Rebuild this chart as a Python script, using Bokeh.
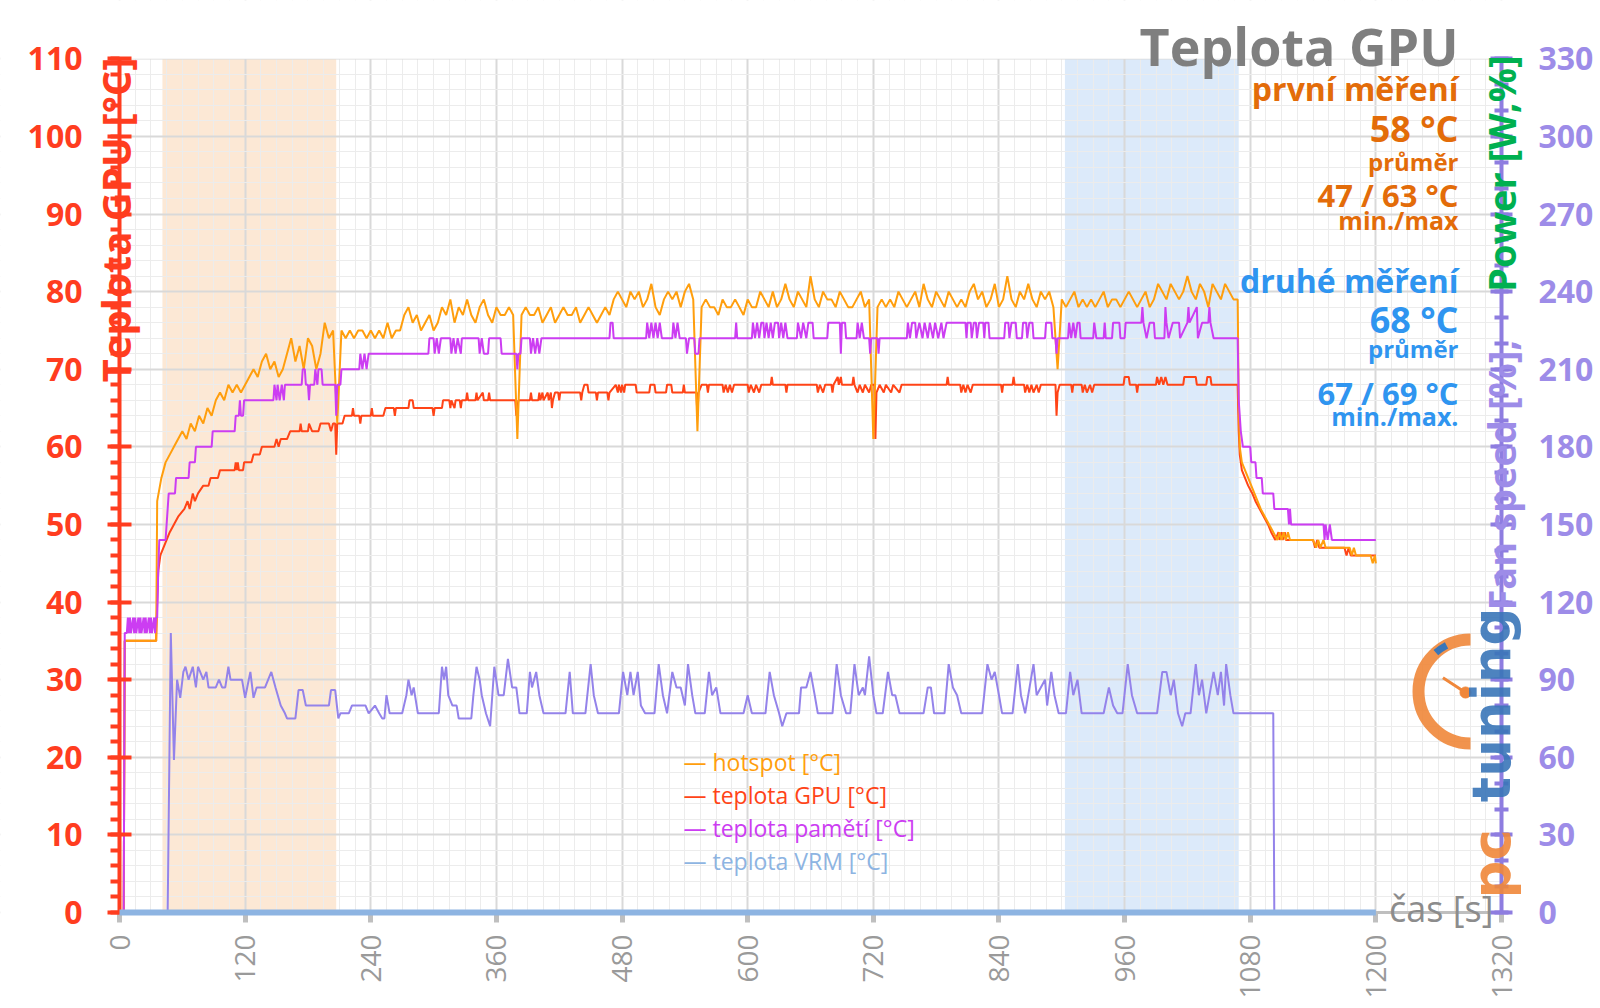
from math import pi
from bokeh.plotting import figure
from bokeh.models import Range1d, LinearAxis, FixedTicker, BoxAnnotation, Label
from bokeh.embed import file_html
from bokeh.resources import INLINE

# ---------------- data ----------------
x_ticks = [0, 120, 240, 360, 480, 600, 720, 840, 960, 1080, 1200, 1320]
x_minor = list(range(0, 1321, 15))
y_ticks = [0, 10, 20, 30, 40, 50, 60, 70, 80, 90, 100, 110]
y_minor = list(range(0, 111, 2))
fan_ticks = [0, 30, 60, 90, 120, 150, 180, 210, 240, 270, 300, 330]
fan_minor = list(range(0, 331, 10))

band_first = (41, 207)     # první měření
band_second = (903, 1069)  # druhé měření

# hotspot [°C]
hot_head = [(4, 0), (5, 35), (35, 35)]
hot_step_start, hot_step = 36, 4
hot_mid = [
    53, 56, 58, 59, 60, 61, 62, 61, 63, 62,   # 36
    64, 63, 65, 64, 66, 67, 66, 68, 67, 68,   # 76
    67, 68, 69, 70, 69, 71, 72, 70, 71, 69,   # 116
    70, 72, 74, 71, 73, 70, 74, 73, 70, 72,   # 156
    76, 74, 75, 63, 75, 74, 75, 74, 75, 75,   # 196
    74, 75, 74, 75, 74, 76, 74, 75, 75, 77,   # 236
    78, 76, 77, 75, 76, 77, 75, 76, 78, 77,   # 276
    79, 76, 78, 77, 79, 77, 76, 78, 79, 77,   # 316
    76, 78, 77, 77, 78, 77, 61, 77, 78, 77,   # 356
    77, 78, 76, 77, 78, 76, 77, 78, 77, 77,   # 396
    78, 76, 77, 78, 77, 76, 77, 78, 77, 79,   # 436
    80, 79, 78, 80, 79, 80, 78, 79, 81, 78,   # 476
    77, 79, 80, 79, 80, 78, 80, 81, 79, 62,   # 516
    78, 79, 78, 78, 77, 79, 78, 78, 79, 78,   # 556
    77, 79, 78, 78, 80, 79, 78, 80, 78, 79,   # 596
    81, 79, 78, 80, 79, 78, 82, 79, 78, 80,   # 636
    79, 79, 78, 80, 79, 78, 78, 79, 80, 78,   # 676
    79, 61, 78, 79, 78, 79, 78, 80, 79, 78,   # 716
    79, 80, 78, 81, 79, 78, 80, 79, 78, 80,   # 756
    79, 78, 79, 78, 80, 81, 79, 80, 78, 79,   # 796
    81, 78, 79, 82, 79, 78, 80, 79, 81, 79,   # 836
    78, 80, 79, 80, 78, 70, 79, 78, 79, 80,   # 876
    78, 79, 78, 79, 78, 79, 80, 78, 79, 79,   # 916
    78, 79, 80, 79, 78, 79, 80, 78, 79, 81,   # 956
    80, 79, 81, 80, 79, 80, 82, 80, 79, 81,   # 996
    80, 78, 81, 80, 79, 81, 80, 79, 79,       # 1036
]
hot_tail = [(1069, 66), (1070, 60), (1072, 58), (1075, 57), (1078, 56), (1081, 55),
            (1084, 54), (1087, 53), (1090, 52), (1094, 51), (1098, 50), (1102, 49),
            (1106, 48), (1108, 49), (1110, 48), (1112, 49), (1114, 48), (1116, 49),
            (1118, 48), (1140, 48), (1143, 47), (1145, 48), (1147, 47), (1150, 48),
            (1152, 47), (1175, 47), (1177, 46), (1179, 47), (1181, 46), (1195, 46),
            (1197, 45), (1199, 46), (1200, 45)]

# teplota GPU [°C]
gpu_pts = [
    (4, 0), (5, 35), (35, 35), (36, 40), (37, 44), (39, 46), (42, 47), (45, 48), (48, 49),
    (52, 50), (56, 51), (62, 52), (65, 53), (67, 52), (70, 54), (72, 53), (75, 54), (80, 55),
    (85, 55), (87, 56), (94, 56), (96, 57), (110, 57), (111, 58), (112, 57), (113, 58),
    (114, 57), (118, 57), (119, 58), (126, 58), (128, 59), (134, 59), (136, 60), (148, 60),
    (150, 61), (152, 60), (154, 61), (160, 61), (163, 62), (172, 62), (173, 63), (174, 62),
    (180, 62), (181, 63), (184, 62), (190, 62), (192, 63), (200, 63), (202, 62), (204, 63),
    (206, 63), (207, 59), (208, 63), (213, 63), (215, 64), (222, 64), (223, 65), (224, 64),
    (229, 64), (230, 63), (231, 64), (240, 64), (241, 65), (242, 64), (252, 64), (254, 65),
    (262, 65), (263, 64), (264, 65), (276, 65), (277, 66), (280, 66), (281, 65), (299, 65),
    (300, 64), (301, 65), (308, 65), (309, 66), (315, 66), (316, 65), (317, 66), (320, 65),
    (321, 66), (325, 66), (326, 65), (327, 66), (331, 66), (332, 67), (333, 66), (340, 66),
    (341, 67), (342, 66), (347, 67), (348, 66), (352, 66), (353, 67), (354, 66), (378, 66),
    (379, 64), (381, 66), (392, 66), (393, 67), (394, 66), (400, 66), (401, 67), (402, 66),
    (404, 67), (405, 66), (409, 67), (410, 66), (412, 67), (413, 65), (414, 66), (416, 67),
    (419, 67), (420, 66), (421, 67), (440, 67), (441, 66), (442, 67), (444, 68), (447, 68),
    (448, 67), (455, 67), (456, 66), (457, 67), (466, 67), (467, 66), (468, 67), (474, 68),
    (476, 67), (477, 68), (479, 67), (480, 68), (482, 67), (483, 68), (493, 68), (494, 67),
    (506, 67), (507, 68), (511, 68), (512, 67), (522, 67), (523, 68), (527, 68), (528, 67),
    (538, 67), (539, 68), (540, 67), (551, 67), (552, 64), (553, 67), (556, 68), (561, 68),
    (562, 67), (563, 68), (576, 68), (577, 67), (579, 68), (581, 67), (583, 68), (585, 67),
    (587, 68), (600, 68), (601, 67), (603, 68), (606, 67), (608, 68), (611, 67), (613, 68),
    (622, 68), (623, 69), (624, 68), (636, 68), (637, 67), (638, 68), (666, 68), (667, 67),
    (669, 68), (672, 67), (674, 68), (680, 68), (681, 67), (682, 68), (686, 69), (687, 68),
    (689, 69), (690, 68), (700, 68), (701, 69), (702, 68), (705, 67), (707, 68), (710, 67),
    (712, 68), (716, 67), (718, 68), (721, 68), (722, 61), (723, 67), (726, 68), (730, 67),
    (732, 68), (737, 67), (739, 68), (745, 67), (747, 68), (790, 68), (791, 69), (792, 68),
    (803, 68), (804, 67), (806, 68), (808, 67), (810, 68), (813, 67), (815, 68), (842, 68),
    (843, 67), (844, 68), (853, 68), (854, 69), (855, 68), (864, 68), (865, 67), (867, 68),
    (869, 67), (871, 68), (873, 67), (876, 68), (878, 67), (880, 68), (894, 68), (895, 64),
    (896, 67), (898, 68), (909, 68), (910, 67), (911, 68), (919, 68), (920, 67), (922, 68),
    (924, 67), (927, 68), (929, 67), (931, 68), (959, 68), (960, 69), (964, 69), (965, 68),
    (971, 68), (972, 67), (973, 68), (990, 68), (991, 69), (993, 68), (995, 69), (997, 68),
    (999, 69), (1001, 68), (1016, 68), (1017, 69), (1028, 69), (1029, 68), (1038, 68),
    (1039, 69), (1042, 69), (1043, 68), (1068, 68), (1069, 62), (1070, 59), (1072, 57),
    (1075, 56), (1078, 55), (1082, 54), (1085, 53), (1089, 52), (1093, 51), (1097, 50),
    (1100, 49), (1104, 48), (1107, 49), (1108, 48), (1110, 49), (1111, 48), (1113, 49),
    (1114, 48), (1140, 48), (1142, 47), (1144, 48), (1146, 47), (1170, 47), (1172, 46),
    (1174, 47), (1176, 46), (1200, 46)]

# teplota pamětí [°C]
mem_pts = [
    (4, 0), (5, 36), (7, 36), (8, 38), (9, 36), (10, 38), (11, 36), (13, 38), (14, 36),
    (15, 38), (16, 36), (18, 38), (19, 36), (20, 38), (21, 36), (23, 38), (24, 36), (25, 38),
    (26, 36), (28, 38), (29, 36), (30, 38), (31, 36), (33, 38), (34, 36), (35, 38), (36, 38),
    (37, 44), (38, 48), (44, 48), (46, 52), (47, 54), (53, 54), (54, 56), (66, 56), (67, 58),
    (72, 58), (73, 60), (88, 60), (89, 62), (110, 62), (111, 64), (114, 64), (115, 66),
    (116, 64), (118, 64), (119, 66), (147, 66), (148, 68), (150, 66), (151, 68), (153, 66),
    (155, 68), (157, 66), (158, 68), (174, 68), (175, 70), (177, 70), (178, 68), (180, 68),
    (181, 66), (182, 68), (186, 68), (187, 70), (189, 68), (190, 70), (193, 70), (194, 68),
    (206, 68), (207, 64), (208, 68), (211, 68), (212, 70), (229, 70), (230, 72), (232, 70),
    (234, 72), (236, 70), (238, 72), (295, 72), (296, 74), (300, 74), (301, 72), (303, 74),
    (305, 72), (307, 74), (316, 74), (317, 72), (319, 74), (321, 72), (323, 74), (326, 72),
    (327, 74), (343, 74), (344, 72), (346, 74), (348, 72), (352, 72), (353, 74), (364, 74),
    (365, 72), (379, 72), (380, 70), (381, 72), (383, 72), (384, 74), (392, 74), (393, 72),
    (395, 74), (397, 72), (399, 74), (401, 72), (403, 74), (468, 74), (469, 76), (471, 76),
    (472, 74), (503, 74), (504, 76), (506, 74), (508, 76), (510, 74), (512, 76), (514, 74),
    (516, 76), (518, 74), (528, 74), (529, 76), (531, 74), (533, 76), (535, 74), (541, 74),
    (542, 72), (544, 74), (549, 74), (550, 72), (553, 72), (554, 74), (588, 74), (589, 76),
    (590, 74), (604, 74), (605, 76), (607, 74), (609, 76), (611, 74), (613, 76), (615, 76),
    (616, 74), (618, 76), (620, 74), (622, 76), (624, 74), (626, 76), (629, 76), (630, 74),
    (632, 76), (634, 74), (636, 76), (638, 74), (647, 74), (648, 76), (651, 74), (653, 76),
    (656, 74), (658, 76), (662, 76), (663, 74), (676, 74), (677, 76), (688, 76), (689, 72),
    (690, 76), (693, 76), (694, 74), (704, 74), (705, 76), (707, 74), (709, 76), (711, 74),
    (716, 74), (717, 72), (718, 74), (724, 74), (725, 72), (726, 74), (752, 74), (753, 76),
    (755, 74), (757, 76), (760, 76), (761, 74), (764, 76), (767, 74), (769, 76), (772, 74),
    (774, 76), (777, 74), (779, 76), (782, 74), (785, 76), (787, 74), (790, 76), (808, 76),
    (809, 74), (810, 76), (813, 76), (814, 74), (816, 76), (818, 76), (819, 74), (821, 76),
    (825, 76), (826, 74), (827, 76), (830, 76), (831, 74), (845, 74), (846, 76), (849, 76),
    (850, 74), (852, 76), (856, 76), (857, 74), (862, 74), (863, 76), (866, 76), (867, 74),
    (869, 76), (872, 76), (873, 74), (884, 74), (885, 76), (890, 76), (891, 74), (894, 74),
    (895, 72), (896, 74), (906, 74), (907, 76), (909, 74), (911, 76), (913, 74), (915, 76),
    (917, 76), (918, 74), (930, 74), (931, 76), (933, 74), (940, 74), (941, 76), (942, 74),
    (948, 74), (949, 76), (955, 76), (956, 74), (960, 74), (961, 76), (976, 76), (977, 78),
    (978, 76), (981, 74), (984, 76), (988, 76), (989, 74), (998, 74), (999, 78), (1000, 76),
    (1002, 74), (1006, 76), (1012, 76), (1013, 74), (1020, 76), (1021, 78), (1022, 76),
    (1029, 78), (1030, 74), (1034, 76), (1040, 76), (1041, 78), (1042, 76), (1045, 74),
    (1068, 74), (1069, 66), (1071, 62), (1073, 60), (1080, 60), (1081, 58), (1085, 58),
    (1086, 56), (1091, 56), (1092, 54), (1102, 54), (1103, 52), (1116, 52), (1117, 50),
    (1118, 52), (1119, 50), (1150, 50), (1151, 48), (1152, 50), (1154, 48), (1156, 50),
    (1158, 48), (1200, 48)]

# teplota VRM [°C]
vrm_pts = [(0, 0), (1200, 0)]

# fan speed [%] (right axis)
fan_pts = [
    (0, 0), (46, 0), (49, 108), (52, 59), (55, 90), (58, 83), (61, 93), (63, 95), (66, 90),
    (70, 95), (73, 87), (75, 95), (80, 90), (83, 93), (85, 87), (92, 87), (95, 90), (98, 87),
    (101, 87), (104, 95), (106, 90), (117, 90), (120, 83), (125, 93), (128, 83), (131, 87),
    (139, 87), (145, 93), (149, 87), (154, 80), (158, 77), (160, 75), (168, 75), (171, 86),
    (175, 86), (178, 80), (200, 80), (202, 86), (206, 86), (209, 75), (211, 77), (219, 77),
    (222, 80), (235, 80), (238, 77), (244, 80), (248, 77), (251, 75), (253, 75), (255, 84),
    (258, 77), (270, 77), (274, 84), (276, 90), (279, 84), (281, 87), (285, 77), (305, 77),
    (308, 95), (310, 90), (312, 95), (314, 84), (318, 80), (322, 80), (324, 75), (336, 75),
    (338, 84), (341, 95), (344, 90), (346, 84), (350, 77), (354, 72), (358, 95), (362, 84),
    (367, 84), (371, 98), (375, 87), (379, 87), (382, 77), (389, 77), (392, 93), (394, 87),
    (398, 93), (401, 84), (405, 77), (426, 77), (430, 93), (433, 77), (445, 77), (450, 96),
    (453, 84), (457, 77), (477, 77), (481, 93), (485, 84), (488, 93), (491, 84), (495, 93),
    (498, 80), (502, 77), (511, 77), (515, 96), (519, 84), (523, 77), (528, 93), (532, 87),
    (536, 87), (540, 80), (543, 96), (547, 84), (550, 77), (559, 77), (563, 93), (566, 84),
    (570, 87), (574, 77), (596, 77), (600, 84), (604, 77), (617, 77), (621, 93), (625, 84),
    (630, 77), (633, 72), (637, 77), (649, 77), (651, 87), (656, 87), (660, 93), (664, 84),
    (667, 77), (681, 77), (685, 96), (689, 84), (694, 77), (698, 77), (702, 96), (706, 84),
    (710, 87), (712, 84), (716, 99), (720, 84), (723, 77), (729, 77), (734, 93), (738, 84),
    (741, 84), (745, 77), (768, 77), (772, 87), (775, 87), (778, 77), (788, 77), (792, 96),
    (796, 87), (800, 84), (804, 77), (824, 77), (829, 96), (833, 90), (836, 93), (840, 84),
    (843, 77), (853, 77), (858, 96), (861, 84), (865, 77), (873, 96), (876, 84), (880, 87),
    (884, 90), (886, 80), (890, 93), (893, 84), (897, 77), (904, 77), (908, 93), (911, 84),
    (915, 90), (919, 77), (940, 77), (945, 87), (949, 80), (953, 77), (958, 77), (963, 96),
    (967, 84), (972, 77), (991, 77), (996, 93), (1000, 93), (1004, 84), (1007, 90),
    (1011, 77), (1015, 72), (1018, 77), (1023, 77), (1028, 96), (1031, 84), (1034, 90),
    (1038, 77), (1045, 93), (1049, 84), (1052, 93), (1055, 80), (1057, 96), (1061, 84),
    (1064, 77), (1102, 77), (1103, 0)]

legend_items = ["— hotspot [°C]", "— teplota GPU [°C]", "— teplota pamětí [°C]", "— teplota VRM [°C]"]

# ---------------- build series ----------------
hot_t = [t for t, _ in hot_head] + [hot_step_start + hot_step * i for i in range(len(hot_mid))] + [t for t, _ in hot_tail]
hot_v = [v for _, v in hot_head] + hot_mid + [v for _, v in hot_tail]


def split(pts):
    return [a for a, _ in pts], [b for _, b in pts]


gpu_t, gpu_v = split(gpu_pts)
mem_t, mem_v = split(mem_pts)
vrm_t, vrm_v = split(vrm_pts)
fan_t, fan_v = split(fan_pts)

# ---------------- geometry (page pixels) ----------------
W, H, MARGIN = 1600, 1008, 0
FRAME_L, FRAME_R = 119.0, 1501.0   # page x of t=0 and t=1320
FRAME_T, FRAME_B = 58.3, 912.0     # page y of 110 and 0
SX = (FRAME_R - FRAME_L) / 1320.0
SY = (FRAME_B - FRAME_T) / 110.0
MID = 0.388  # em-box centre above the baseline (Open Sans), in em


def tx(px):
    return (px - FRAME_L) / SX


def ty(py):
    return (FRAME_B - py) / SY


x_lo, x_hi = tx(MARGIN), tx(MARGIN + W)
y_lo, y_hi = ty(MARGIN + H), ty(MARGIN)

# ---------------- colours ----------------
C_LEFT = "#FF3D1F"
C_RIGHT = "#9D8CE8"
C_FANAX = "#8E7DE0"
C_HOT = "#FF9E0D"
C_GPU = "#FF4417"
C_MEM = "#CC3DF2"
C_VRM = "#8DB4E2"
C_FAN = "#9483EA"
C_FIRST = "#E36C09"
C_SECOND = "#2F95F0"
FONT = "Open Sans"

p = figure(width=W, height=H, output_backend="svg", toolbar_location=None,
           x_range=Range1d(x_lo, x_hi), y_range=Range1d(y_lo, y_hi), min_border=0)
p.extra_y_ranges = {"fan": Range1d(3 * y_lo, 3 * y_hi)}
p.outline_line_color = None
p.background_fill_color = "white"
p.border_fill_color = "white"

# x axis
xa = p.xaxis[0]
xa.fixed_location = 0
xa.bounds = (0, 1320)
xa.ticker = FixedTicker(ticks=x_ticks, minor_ticks=x_minor)
xa.major_label_orientation = pi / 2
xa.major_label_text_font = FONT
xa.major_label_text_font_size = "28px"
xa.major_label_text_color = "#9A9A9A"
xa.axis_line_color = "#BFBFBF"
xa.axis_line_width = 3
xa.major_tick_line_color = "#BFBFBF"
xa.major_tick_line_width = 5
xa.major_tick_in = 0
xa.major_tick_out = 10
xa.minor_tick_line_color = None
xa.major_label_standoff = 12

# left y axis
ya = p.yaxis[0]
ya.fixed_location = 0
ya.bounds = (0, 110)
ya.ticker = FixedTicker(ticks=y_ticks, minor_ticks=y_minor)
ya.axis_line_color = C_LEFT
ya.axis_line_width = 4
ya.major_tick_line_color = C_LEFT
ya.major_tick_line_width = 4
ya.major_tick_in = 12
ya.major_tick_out = 12
ya.minor_tick_line_color = C_LEFT
ya.minor_tick_line_width = 4
ya.minor_tick_in = 0
ya.minor_tick_out = 9
ya.major_label_text_font = FONT
ya.major_label_text_font_size = "32px"
ya.major_label_text_font_style = "bold"
ya.major_label_text_color = C_LEFT
ya.major_label_standoff = 25

# right y axis
ra = LinearAxis(y_range_name="fan", fixed_location=1320, bounds=(0, 330),
                ticker=FixedTicker(ticks=fan_ticks, minor_ticks=fan_minor))
ra.axis_line_color = C_FANAX
ra.axis_line_width = 4
ra.major_tick_line_color = C_FANAX
ra.major_tick_line_width = 4
ra.major_tick_in = 11
ra.major_tick_out = 11
ra.minor_tick_line_color = C_FANAX
ra.minor_tick_line_width = 4
ra.minor_tick_in = 7
ra.minor_tick_out = 7
ra.major_label_text_font = FONT
ra.major_label_text_font_size = "32px"
ra.major_label_text_font_style = "bold"
ra.major_label_text_color = C_RIGHT
ra.major_label_standoff = 26
p.add_layout(ra, "right")

# grid
for g in (p.xgrid[0], p.ygrid[0]):
    g.grid_line_color = "#D9D9D9"
    g.grid_line_width = 2
    g.minor_grid_line_color = "#ECECEC"
    g.minor_grid_line_width = 1

# bands
p.add_layout(BoxAnnotation(left=band_first[0], right=band_first[1], bottom=0, top=110,
                           fill_color="#FCE8D5", fill_alpha=1.0, line_color=None, level="image"))
p.add_layout(BoxAnnotation(left=band_second[0], right=band_second[1], bottom=0, top=110,
                           fill_color="#DCEAFA", fill_alpha=1.0, line_color=None, level="image"))

# white masks so the grid stays inside the data area
for kw in (dict(top=0), dict(bottom=110), dict(right=0), dict(left=1320)):
    p.add_layout(BoxAnnotation(fill_color="white", fill_alpha=1.0, line_color=None,
                               level="underlay", **kw))

# series
p.line(fan_t, fan_v, y_range_name="fan", line_color=C_FAN, line_width=2)
p.line(gpu_t, gpu_v, line_color=C_GPU, line_width=2)
p.line(hot_t, hot_v, line_color=C_HOT, line_width=2)
p.line(mem_t, mem_v, line_color=C_MEM, line_width=2)
p.line(vrm_t, vrm_v, line_color=C_VRM, line_width=6, level="overlay")

# logo (pctuning)
logo_cx, logo_cy = tx(1470), ty(691)
p.arc(x=[logo_cx], y=[logo_cy], radius=52, radius_units="screen", start_angle=pi / 2,
      end_angle=3 * pi / 2, direction="anticlock", line_color="#F0873A", line_width=12, line_alpha=0.9)
p.arc(x=[logo_cx], y=[logo_cy], radius=52, radius_units="screen", start_angle=2.05,
      end_angle=2.3, direction="anticlock", line_color="#3A76B8", line_width=7)
p.ray(x=[tx(1465)], y=[ty(692)], length=27, length_units="screen", angle=2.56,
      line_color="#F0873A", line_width=3)
p.scatter(x=[tx(1465)], y=[ty(692)], size=11, color="#F0873A")
p.add_layout(Label(x=tx(1491), y=ty(607), text="tuning", angle=pi / 2, text_align="right",
                   text_baseline="middle", text_font="DejaVu Sans", text_font_style="bold",
                   text_font_size="53px", text_color="#3A76B8", text_alpha=0.9))
p.add_layout(Label(x=tx(1491), y=ty(898), text="pc", angle=pi / 2, text_align="left",
                   text_baseline="middle", text_font="DejaVu Sans", text_font_style="bold",
                   text_font_size="53px", text_color="#F0873A", text_alpha=0.9))

# axis titles
p.add_layout(Label(x=tx(115), y=ty(57), text="Teplota GPU [°C]", angle=pi / 2, text_align="right",
                   text_baseline="middle", text_font=FONT, text_font_style="bold",
                   text_font_size="40px", text_color=C_LEFT))
p.add_layout(Label(x=tx(1500), y=ty(55), text="Power [W,%]", angle=pi / 2, text_align="right",
                   text_baseline="middle", text_font=FONT, text_font_style="bold",
                   text_font_size="38px", text_color="#00B050"))
p.add_layout(Label(x=tx(1500), y=ty(610), text="Fan speed [%], ", angle=pi / 2, text_align="left",
                   text_baseline="middle", text_font=FONT, text_font_style="bold",
                   text_font_size="38px", text_color=C_RIGHT))
p.add_layout(Label(x=tx(1493), y=ty(922 - MID * 36), text="čas [s]", text_align="right",
                   text_baseline="middle", text_font=FONT, text_font_size="36px",
                   text_color="#8C8C8C"))

# title and summary texts (page-pixel baselines, right edge at x=1458)
texts = [
    ("Teplota GPU", 65, 52, "#7F7F7F"),
    ("první měření", 100, 32, C_FIRST),
    ("58 °C", 142, 36, C_FIRST),
    ("průměr", 170, 24, C_FIRST),
    ("47 / 63 °C", 207, 31, C_FIRST),
    ("min./max", 229, 25, C_FIRST),
    ("druhé měření", 292, 32, C_SECOND),
    ("68 °C", 333, 36, C_SECOND),
    ("průměr", 357, 24, C_SECOND),
    ("67 / 69 °C", 405, 31, C_SECOND),
    ("min./max.", 425, 25, C_SECOND),
]
for txt, base, fs, col in texts:
    p.add_layout(Label(x=tx(1458), y=ty(base - MID * fs), text=txt, text_align="right",
                       text_baseline="middle", text_font=FONT, text_font_style="bold",
                       text_font_size=f"{fs}px", text_color=col))

# legend
legend_colors = [C_HOT, C_GPU, C_MEM, C_VRM]
legend_rows = [761, 794, 827, 860]
for txt, col, row in zip(legend_items, legend_colors, legend_rows):
    p.add_layout(Label(x=tx(683), y=ty(row), text=txt, text_align="left", text_baseline="middle",
                       text_font=FONT, text_font_size="23px", text_color=col))

open("out.html", "w").write(file_html(p, INLINE))
